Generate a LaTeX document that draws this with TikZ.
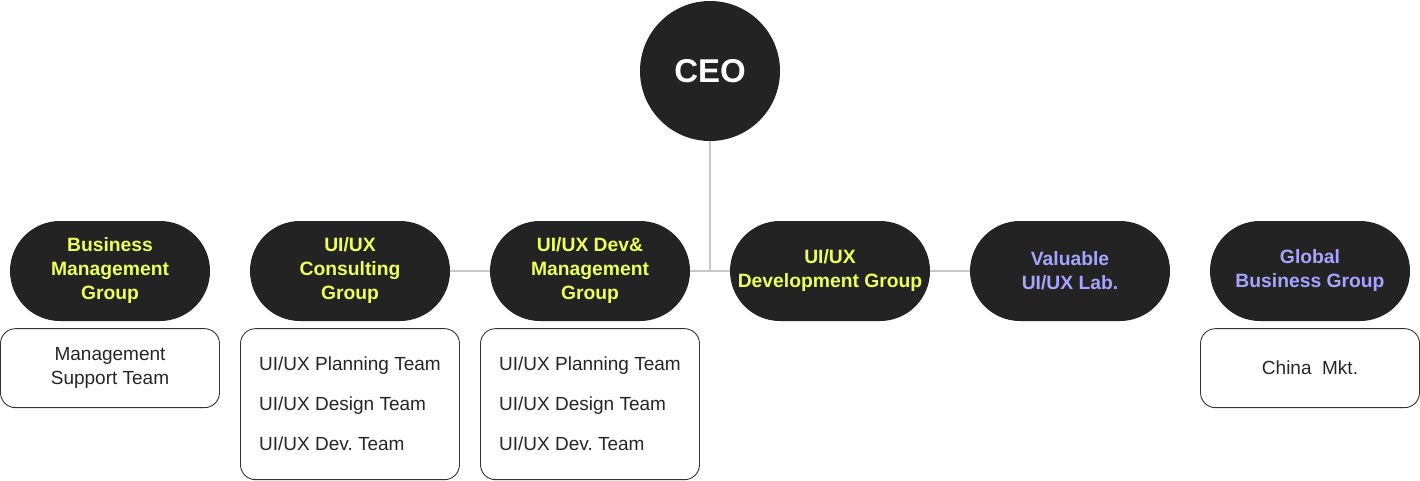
\documentclass[tikz,border=0pt]{standalone}
\usepackage{fontspec}
\setmainfont{Liberation Sans}
\usetikzlibrary{positioning}
\frenchspacing
\definecolor{pilldark}{HTML}{232323}
\definecolor{leadyellow}{HTML}{EDFF5B}
\definecolor{labpurple}{HTML}{A6A4FF}
\definecolor{linkgray}{HTML}{C8C8C8}
\definecolor{boxline}{HTML}{333333}
\tikzset{
  grouppill/.style={rectangle, rounded corners=50pt, fill=pilldark, minimum width=200pt, minimum height=100pt,
    inner sep=0pt, align=center, font=\fontsize{19.3}{24}\selectfont\bfseries},
  teambox/.style={rectangle, rounded corners=15pt, draw=boxline, line width=0.9pt, fill=white, minimum width=219pt,
    inner sep=0pt, font=\fontsize{19}{24}\selectfont, text=black!85},
  link/.style={draw=linkgray, line width=2pt}
}
\begin{document}
\begin{tikzpicture}[x=1pt,y=-1pt]
  \useasboundingbox (0,0) rectangle (1420,480);
  % ceo circle
  \node[circle, fill=pilldark, minimum size=140pt, inner sep=0pt, text=white, font=\fontsize{33}{38}\selectfont\bfseries] (ceo) at (710,71) {CEO};
  % groups
  \node[grouppill, text=leadyellow] (business) at (110,271) {Business\\Management\\Group};
  \node[grouppill, text=leadyellow] (consult) at (350,271) {UI/UX\\Consulting\\Group};
  \node[grouppill, text=leadyellow] (devmgmt) at (590,271) {UI/UX Dev\&\\Management\\Group};
  \node[grouppill, text=leadyellow] (devgroup) at (830,271) {UI/UX\\Development Group};
  \node[grouppill, text=labpurple] (lab) at (1070,271) {Valuable\\UI/UX Lab.};
  \node[grouppill, text=labpurple] (global) at (1310,271) {Global\\Business Group};
  % links between groups
  \draw[link] (ceo.south) -- (ceo.south |- devmgmt.east);
  \draw[link] (consult.east) -- (devmgmt.west);
  \draw[link] (devmgmt.east) -- (devgroup.west);
  \draw[link] (devgroup.east) -- (lab.west);
  % teams
  \node[teambox, below=7pt of business, minimum height=79pt, align=center] (support) {Management\\Support Team};
  \node[teambox, below=7pt of consult, minimum height=151pt, align=left, font=\fontsize{19}{40}\selectfont] (consultteams)
    {UI/UX Planning Team\\UI/UX Design Team\\UI/UX Dev. Team};
  \node[teambox, below=7pt of devmgmt, minimum height=151pt, align=left, font=\fontsize{19}{40}\selectfont] (devteams)
    {UI/UX Planning Team\\UI/UX Design Team\\UI/UX Dev. Team};
  \node[teambox, below=7pt of global, minimum height=79pt] (china) {China~~Mkt.};
\end{tikzpicture}
\end{document}
